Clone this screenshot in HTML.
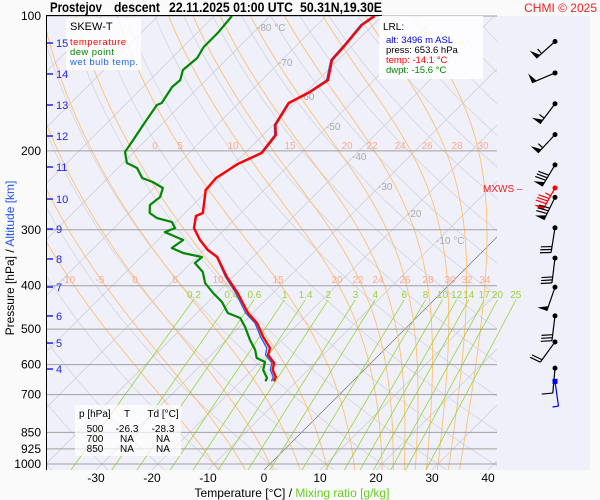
<!DOCTYPE html>
<html><head><meta charset="utf-8"><style>
html,body{margin:0;padding:0;background:#fafafa;}
svg{display:block;font-family:"Liberation Sans",sans-serif;}
</style></head><body>
<svg id="chart" width="600" height="500" viewBox="0 0 600 500" xmlns="http://www.w3.org/2000/svg">
<defs>
<clipPath id="plotClip"><rect x="46" y="16" width="451" height="454"/></clipPath>
<clipPath id="mixClip"><rect x="46" y="16" width="490" height="454"/></clipPath>
</defs>
<rect x="0" y="0" width="600" height="500" fill="#fafafa"/>
<rect x="46" y="16" width="544" height="454" fill="#f0f0fb"/>
<g id="grid"></g>
<g>
<rect x="66" y="18" width="75" height="52" fill="#ffffff" fill-opacity="0.8"/>
<text x="70" y="30" font-size="11">SKEW-T</text>
<text x="70" y="45" font-size="9.5" fill="#ff0000" textLength="56">temperature</text>
<text x="70" y="55" font-size="9.5" fill="#008800" textLength="44">dew point</text>
<text x="70" y="65" font-size="9.5" fill="#2266ee" textLength="68">wet bulb temp.</text>
</g>
<g>
<rect x="379" y="16" width="104" height="63" fill="#ffffff" fill-opacity="0.85"/>
<text x="383" y="30" font-size="10">LRL:</text>
<text x="386" y="43" font-size="9.5" fill="#0000ee">alt: 3496 m ASL</text>
<text x="386" y="53" font-size="9.5" fill="#000">press: 653.6 hPa</text>
<text x="386" y="63" font-size="9.5" fill="#ff0000">temp: -14.1 °C</text>
<text x="386" y="73" font-size="9.5" fill="#008800">dwpt: -15.6 °C</text>
</g>
<g id="series"></g>
<g id="winds"></g>
<g id="axes"></g>
<text x="50" y="12" font-size="14" font-weight="bold" textLength="52" lengthAdjust="spacingAndGlyphs">Prostejov</text>
<text x="114" y="12" font-size="14" font-weight="bold" textLength="46" lengthAdjust="spacingAndGlyphs">descent</text>
<text x="169" y="12" font-size="14" font-weight="bold" textLength="124" lengthAdjust="spacingAndGlyphs">22.11.2025 01:00 UTC</text>
<text x="300" y="12" font-size="14" font-weight="bold" textLength="82" lengthAdjust="spacingAndGlyphs">50.31N,19.30E</text>
<text x="597" y="12" font-size="12" fill="#ee2222" text-anchor="end">CHMI © 2025</text>
<line x1="46" y1="15.5" x2="382" y2="15.5" stroke="#000" stroke-width="1"/>
<line x1="46.5" y1="15" x2="46.5" y2="470" stroke="#000" stroke-width="1"/>
<g>
<rect x="75" y="405" width="106" height="51" fill="#ffffff" fill-opacity="0.7"/>
<text x="79" y="417" font-size="10">p [hPa]</text>
<text x="127" y="417" font-size="10" text-anchor="middle">T</text>
<text x="163" y="417" font-size="10" text-anchor="middle">Td [°C]</text>
<text x="95" y="432" font-size="10" text-anchor="middle">500</text>
<text x="127" y="432" font-size="10" text-anchor="middle">-26.3</text>
<text x="163" y="432" font-size="10" text-anchor="middle">-28.3</text>
<text x="95" y="442" font-size="10" text-anchor="middle">700</text>
<text x="127" y="442" font-size="10" text-anchor="middle">NA</text>
<text x="163" y="442" font-size="10" text-anchor="middle">NA</text>
<text x="95" y="452" font-size="10" text-anchor="middle">850</text>
<text x="127" y="452" font-size="10" text-anchor="middle">NA</text>
<text x="163" y="452" font-size="10" text-anchor="middle">NA</text>
</g>
<text x="483" y="192" font-size="10" fill="#ee2222">MXWS –</text>
<text transform="translate(14,258) rotate(-90)" font-size="12" text-anchor="middle"><tspan fill="#000">Pressure [hPa]  /  </tspan><tspan fill="#2255ee">Altitude [km]</tspan></text>
<text x="292" y="497" font-size="12" text-anchor="middle"><tspan fill="#000">Temperature [°C]  /  </tspan><tspan fill="#66cc22">Mixing ratio [g/kg]</tspan></text>
<script>
// ---- data ----
const tempP = [100,104.7,116,125.3,139,147.8,156.4,175,184.4,202,213.9,229.9,244.6,275.3,279.6,297.4,316.2,332.9,345.1,382.4,415.3,460.2,484.4,520.6,551,571,595,617,639.6,653.6];
const tempT = [-61.3,-62.0,-61.4,-61.1,-58.2,-59.3,-61.1,-59.6,-57.7,-57.0,-59.3,-60.7,-60.4,-56.8,-57.5,-55.7,-52.5,-49.3,-46.4,-41.1,-36.3,-30.9,-27.5,-23.9,-20.7,-19.8,-17.3,-16.3,-14.5,-14.1];
const dewP = [100,109.1,117.3,124.1,132,139,144,156.4,158,175,189.2,201.2,212.9,218.4,229.9,234.7,242.1,253.5,264.2,275.3,282.5,288.4,297.4,303.6,316.2,329.5,338.1,345.1,355.9,372.7,394.5,415.3,434.9,460.2,472.2,494.6,528.8,556.7,580.1,592.1,617,642.7,653.6];
const dewT = [-86.8,-86.3,-86.3,-85.5,-85.9,-84.6,-84.8,-83.8,-84.3,-83.2,-82.3,-81.6,-79.3,-76.6,-73.9,-71.3,-68.4,-67.3,-67.7,-66.3,-64.1,-60.7,-59.1,-60.2,-55.5,-56.1,-53.2,-49.1,-49.3,-46.3,-43.9,-40.7,-37.5,-34.5,-31.4,-28.9,-25.7,-23.0,-21.3,-19.1,-18.0,-15.9,-15.6];
const windP = [114,134,157,184,215,242,254,297,347,403,467,534,611,654];
const windDir = [228,247,217,223,211,209,206,189,187,199,187,216,185,172];
const windSpd = [55,50,55,55,80,85,80,30,30,50,30,20,10,5];
const pressureTicks = [100,200,300,400,500,600,700,850,925,1000];
const tempTicks = [-30,-20,-10,0,10,20,30,40];
const altKm = [15,14,13,12,11,10,9,8,7,6,5,4];
const altP = [114.9,134.7,158,185.3,217.3,256.2,298.9,348.6,402.7,467.2,537,613.8];
const mixRatios = [0.2,0.4,0.6,1,1.4,2,3,4,6,8,10,12,14,17,20,25];
const moistThetaW = [-10,-5,0,5,10,15,20,22,24,26,28,30,32,34];

const NS = "http://www.w3.org/2000/svg";
function yP(p){ return 16 + (Math.log10(p) - 2) * 448; }
function xT(T, y){ return 264 + 5.6 * T + (470 - y); }
function el(tag, attrs, parent){ const e = document.createElementNS(NS, tag); for (const k in attrs) e.setAttribute(k, attrs[k]); parent.appendChild(e); return e; }
function es(T){ return 6.112 * Math.exp(17.67 * T / (T + 243.5)); }
function ws(T, p){ const e = es(T); return 0.622 * e / (p - e); }
function gam(T, p){
  const Tk = T + 273.15, r = ws(T, p), Rd = 287.04, cp = 1005.7, L = 2.501e6;
  return (Rd * Tk + L * r) / (p * (cp + L * L * r * 0.622 / (Rd * Tk * Tk)));
}
const grid = document.getElementById('grid');
const series = document.getElementById('series');
const winds = document.getElementById('winds');
const axes = document.getElementById('axes');

const gClip = el('g', {'clip-path':'url(#plotClip)'}, grid);



for (let th = -40; th <= 200; th += 10) {
  let d = '';
  for (let p = 1050; p >= 95; p -= 10) {
    const T = (th + 273.15) * Math.pow(p / 1000, 0.2857) - 273.15;
    const y = yP(p);
    d += (d ? 'L' : 'M') + xT(T, y).toFixed(1) + ',' + y.toFixed(1);
  }
  const e = el('path', {d: d, fill:'none', stroke:'#d4d4dc', 'stroke-width':0.8}, gClip);
  
  
}
for (let T = -160; T <= 50; T += 10) {
  const e = el('line', {x1: xT(T,470), y1: 470, x2: xT(T,16), y2: 16, stroke: T===0 ? '#777' : '#cfcfd6', 'stroke-width': T===0 ? 0.7 : 0.8}, gClip);
  
  
}
for (const tw of moistThetaW) {
  let Tm = tw, pm = 1000;
  while (pm < 1050) { const dp = 5; Tm += gam(Tm, pm) * dp; pm += dp; }
  let T = Tm, p = 1050;
  let d = '';
  while (p > 95) {
    const y = yP(p);
    d += (d ? 'L' : 'M') + xT(T, y).toFixed(1) + ',' + y.toFixed(1);
    const dp = -5; T += gam(T, p) * dp; p += dp;
  }
  const e = el('path', {d: d, fill:'none', stroke:'#ffc070', 'stroke-width':0.9}, gClip);
  
  
}
const gMix = el('g', {'clip-path':'url(#mixClip)'}, grid);


function tdFromW(w, p){ const e = (w / 1000) * p / (0.622 + w / 1000); const L = Math.log(e / 6.112); return 243.5 * L / (17.67 - L); }
for (const w of mixRatios) {
  const p1 = 1050, p2 = 430;
  const y1 = yP(p1), y2 = yP(p2);
  const e = el('line', {x1: xT(tdFromW(w,p1), y1), y1: y1, x2: xT(tdFromW(w,p2), y2), y2: y2, stroke:'#99d433', 'stroke-width':0.8}, gMix);
  
  
  const t = el('text', {x: xT(tdFromW(w, 420), 298), y: 298, 'font-size': 10, fill:'#99d433', 'text-anchor':'middle'}, grid);
  t.textContent = String(w);
  
  
}
for (const p of pressureTicks) {
  const y = yP(p);
  const e = el('line', {x1: 46, y1: y, x2: 497, y2: y, stroke:'#a0a0a0', 'stroke-width':1}, grid);
  
  
  const t = el('text', {x: 41, y: y + 4, 'font-size': 12, 'text-anchor':'end'}, axes);
  t.textContent = String(p);
  
  
}
const isoLabels = ['-80 °C','-70','-60','-50','-40','-30','-20','-10 °C'];
const isoLabelT = [-80,-70,-60,-50,-40,-30,-20,-10];
const isoLabelY = [31,66,100,130,160,190,217,244];
isoLabelT.forEach((T, i) => {
  const t = el('text', {x: xT(T, isoLabelY[i]) + 2, y: isoLabelY[i], 'font-size': 10, fill:'#aaaaaa'}, grid);
  t.textContent = isoLabels[i];
  
  
});
const maTop = ['0','5','10','15','20','22','24','26','28','30','32','34'];
const maTopXv = [155,180,233,290,347,372,400,427,457,483,512,539];
maTop.forEach((s, i) => {
  if (maTopXv[i] > 492) return;
  const t = el('text', {x: maTopXv[i], y: 149, 'font-size': 10, fill:'#ffaa88', 'text-anchor':'middle'}, grid);
  t.textContent = s;
  
  
});
const maRowX = [68,100,135,175,218,278,337,358,378,405,428,450,467,485];
moistThetaW.forEach((tw, i) => {
  const t = el('text', {x: maRowX[i], y: 283, 'font-size': 10, fill:'#ffaa88', 'text-anchor':'middle'}, grid);
  t.textContent = String(tw);
  
  
});
for (const T of tempTicks) {
  const t = el('text', {x: xT(T, 470), y: 482, 'font-size': 12, 'text-anchor':'middle'}, axes);
  t.textContent = String(T);
  
  
}
altKm.forEach((k, i) => {
  const y = yP(altP[i]);
  const l = el('line', {x1: 47, y1: y, x2: 53, y2: y, stroke:'#2222ee', 'stroke-width':1.5}, axes);
  
  
  const t = el('text', {x: 56, y: y + 4, 'font-size': 11, fill:'#2222ee'}, axes);
  t.textContent = String(k);
  
  
});
function pathOf(P, T){ return P.map((p, i) => { const y = yP(p); return (i ? 'L' : 'M') + xT(T[i], y).toFixed(1) + ',' + y.toFixed(1); }).join(''); }
function interpDew(p){
  for (let i = 0; i < dewP.length - 1; i++) {
    if (p >= dewP[i] && p <= dewP[i+1]) { const f = (p - dewP[i]) / (dewP[i+1] - dewP[i]); return dewT[i] + f * (dewT[i+1] - dewT[i]); }
  }
  return dewT[dewT.length - 1];
}
function wetBulb(T, Td, p){
  const w = ws(Td, p); let lo = Td, hi = T;
  for (let k = 0; k < 40; k++) { const m = (lo + hi) / 2; const f = 1005 * (T - m) - 2.5e6 * (ws(m, p) - w); if (f > 0) lo = m; else hi = m; }
  return (lo + hi) / 2;
}
const dewPath = el('path', {d: pathOf(dewP, dewT), fill:'none', stroke:'#008800', 'stroke-width':2.2, 'stroke-linejoin':'round'}, series);


const wbT = tempP.map((p, i) => wetBulb(tempT[i], interpDew(p), p));
const wbPath = el('path', {d: pathOf(tempP, wbT), fill:'none', stroke:'#2266ee', 'stroke-width':1.4, 'stroke-linejoin':'round'}, series);


const tPath = el('path', {d: pathOf(tempP, tempT), fill:'none', stroke:'#ff0000', 'stroke-width':2.4, 'stroke-linejoin':'round'}, series);


const maxSpd = Math.max(...windSpd);
windP.forEach((p, i) => {
  const last = i === windP.length - 1;
  const col = last ? '#0000ee' : (windSpd[i] === maxSpd ? '#ff0000' : '#000000');
  const g = el('g', {}, winds);
  
  
  const sx = 555, sy = yP(p);
  const b = windDir[i] * Math.PI / 180;
  const ux = Math.sin(b), uy = -Math.cos(b);
  const len = 25;
  const ex = sx + ux * len, ey = sy + uy * len;
  el('line', {x1: sx, y1: sy, x2: ex, y2: ey, stroke: col, 'stroke-width': 1.2}, g);
  if (last) el('rect', {x: sx - 2.5, y: sy - 2.5, width: 5, height: 5, fill: col}, g);
  else el('circle', {cx: sx, cy: sy, r: 2.5, fill: col}, g);
  const fx = -uy, fy = ux;
  let s = windSpd[i], pos = len;
  while (s >= 50) {
    const ax = sx + ux * pos, ay = sy + uy * pos;
    const bx = sx + ux * (pos - 5), by = sy + uy * (pos - 5);
    el('polygon', {points: ax + ',' + ay + ' ' + (ax + fx * 10) + ',' + (ay + fy * 10) + ' ' + bx + ',' + by, fill: col}, g);
    s -= 50; pos -= 7;
  }
  while (s >= 10) {
    const ax = sx + ux * pos, ay = sy + uy * pos;
    el('line', {x1: ax, y1: ay, x2: ax + fx * 11 + ux * 2, y2: ay + fy * 11 + uy * 2, stroke: col, 'stroke-width': 1.2}, g);
    s -= 10; pos -= 3;
  }
  if (s >= 5) {
    const ax = sx + ux * pos, ay = sy + uy * pos;
    el('line', {x1: ax, y1: ay, x2: ax + fx * 6, y2: ay + fy * 6, stroke: col, 'stroke-width': 1.2}, g);
  }
});
</script>
</svg>
</body></html>
